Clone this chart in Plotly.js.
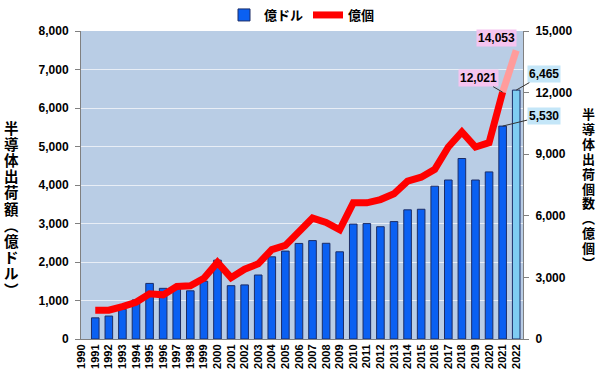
<!DOCTYPE html>
<html><head><meta charset="utf-8">
<script src="https://cdn.plot.ly/plotly-3.0.1.min.js"></script>
<style>html,body{margin:0;padding:0;background:#fff}#c{width:600px;height:377px}</style>
</head><body><div id="c"></div>
<script>
// ---- data ----
const years = ["1990","1991","1992","1993","1994","1995","1996","1997","1998","1999","2000","2001","2002","2003","2004","2005","2006","2007","2008","2009","2010","2011","2012","2013","2014","2015","2016","2017","2018","2019","2020","2021","2022"];
// shipments value (億ドル)
const salesUSD = [null,550,596,773,1015,1444,1316,1372,1252,1500,2048,1385,1405,1662,2135,2283,2482,2556,2486,2265,2985,2998,2916,3050,3355,3370,3970,4130,4688,4130,4340,5530,6465];
// shipments units (億個), actual to 2021
const unitYears = ["1991","1992","1993","1994","1995","1996","1997","1998","1999","2000","2001","2002","2003","2004","2005","2006","2007","2008","2009","2010","2011","2012","2013","2014","2015","2016","2017","2018","2019","2020","2021"];
const units = [1400,1400,1580,1790,2200,2150,2560,2590,2960,3730,2990,3400,3660,4350,4560,5200,5890,5680,5320,6630,6630,6790,7070,7690,7880,8260,9350,10080,9350,9560,12021];
// forecast segment
const fcYears = ["2021","2022"];
const fcUnits = [12021,14053];
const legendNames = ["億ドル","億個"];
const leftTitle = "半導体出荷額︵億ドル︶";
const rightTitle = "半導体出荷個数︵億個︶";

const barColors = years.map(y => y === "2022" ? "#7fcdf2" : "#0a60f2");

const FONT = "Liberation Sans, Arial, sans-serif";
const JFONT = "Noto Sans CJK JP, sans-serif";

const traces = [
  {type:"bar", x:years, y:salesUSD, name:legendNames[0], yaxis:"y",
   width:0.56, marker:{color:barColors, line:{color:"#1c2d66", width:1}}, hoverinfo:"x+y"},
  {type:"scatter", mode:"lines", x:fcYears, y:fcUnits, yaxis:"y2", showlegend:false,
   line:{color:"#ff9c9c", width:7}},
  {type:"scatter", mode:"lines", x:unitYears, y:units, name:legendNames[1], yaxis:"y2",
   line:{color:"#ff0000", width:7}}
];

const L = 81, R = 523, T = 31, B = 339;
const W = R - L, H = B - T;
const ann = [];
// vertical (stacked) axis titles, one glyph per annotation
function vtitle(str, cx, y0, step, size){
  [...str].forEach((ch,i)=>{
    ann.push({xref:"paper", yref:"paper", x:(cx-L)/W, y:(B-(y0+i*step))/H,
      xanchor:"center", yanchor:"middle", showarrow:false, text:ch,
      font:{family:JFONT, size:size, color:"#000", weight:"bold"}});
  });
}
vtitle(leftTitle, 11, 127, 16.2, 14.5);
vtitle(rightTitle, 588, 114, 14.8, 13);

const i21 = years.indexOf("2021"), i22 = years.indexOf("2022");
const pink = "#f5c4ef", lblue = "#c4e6f8";
const afont = {family:FONT, size:12, color:"#000", weight:"bold"};
ann.push({x:i22, y:fcUnits[1], xref:"x", yref:"y2", text:"14,053", showarrow:false,
  xshift:-20, yshift:12, bgcolor:pink, font:afont, borderpad:1});
ann.push({x:i21, y:fcUnits[0], xref:"x", yref:"y2", text:"12,021", showarrow:true,
  arrowhead:0, arrowwidth:1, arrowcolor:"#333", ax:-24, ay:-14, bgcolor:pink, font:afont, borderpad:1});
ann.push({x:i22, y:salesUSD[i22], xref:"x", yref:"y", text:"6,465", showarrow:true,
  arrowhead:0, arrowwidth:1, arrowcolor:"#333", ax:28, ay:-16, bgcolor:lblue, font:afont, borderpad:1});
ann.push({x:i21, y:salesUSD[i21], xref:"x", yref:"y", text:"5,530", showarrow:true,
  arrowhead:0, arrowwidth:1, arrowcolor:"#333", ax:41, ay:-10, bgcolor:lblue, font:afont, borderpad:1});

const layout = {
  width:600, height:377,
  margin:{l:L, r:600-R, t:T, b:377-B, pad:0},
  paper_bgcolor:"#ffffff", plot_bgcolor:"#b9cde5",
  showlegend:true, bargap:0.4,
  legend:{orientation:"h", xref:"paper", x:0.5, xanchor:"center", yref:"container", y:1, yanchor:"top",
    font:{family:JFONT, size:13, color:"#000", weight:"bold"}, bgcolor:"rgba(0,0,0,0)", traceorder:"normal", itemwidth:30},
  xaxis:{type:"category", range:[-0.05, 32.5], tickangle:-90, showgrid:false,
    tickfont:{family:FONT, size:11, color:"#000", weight:"bold"},
    showline:true, linecolor:"#808080", linewidth:1, ticks:"", zeroline:false},
  yaxis:{range:[0,8000], dtick:1000, tickformat:",", showgrid:true, gridcolor:"#e8eef6", gridwidth:1,
    tickfont:{family:FONT, size:12, color:"#000", weight:"bold"}, ticks:"outside", ticklen:5, tickcolor:"#808080",
    showline:true, linecolor:"#808080", linewidth:1, zeroline:false, ticklabelstandoff:4},
  yaxis2:{range:[0,15000], dtick:3000, tickformat:",", overlaying:"y", side:"right", showgrid:false,
    tickfont:{family:FONT, size:12, color:"#000", weight:"bold"}, ticks:"outside", ticklen:5, tickcolor:"#808080",
    showline:true, linecolor:"#808080", linewidth:1, zeroline:false, ticklabelstandoff:4},
  annotations:ann
};
Plotly.newPlot("c", traces, layout, {displayModeBar:false, staticPlot:true});
</script></body></html>
